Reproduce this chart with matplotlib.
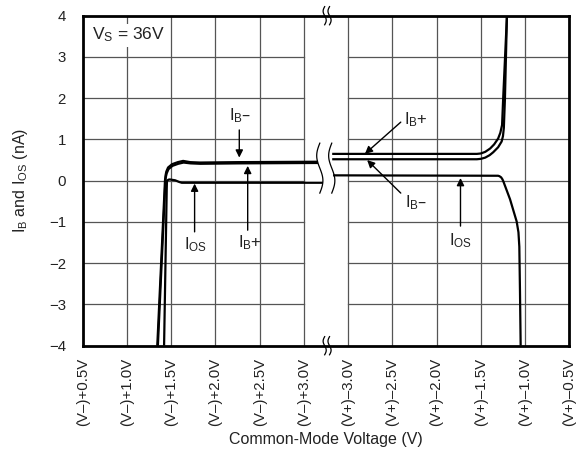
import numpy as np
import matplotlib
matplotlib.use("Agg")
import matplotlib.pyplot as plt

plt.rcParams["font.family"] = ["Liberation Sans", "DejaVu Sans"]
plt.rcParams["mathtext.default"] = "regular"

# x tick labels (broken axis: left half referenced to V-, right half to V+)
xtick_labels = ["(V–)+0.5V", "(V–)+1.0V", "(V–)+1.5V", "(V–)+2.0V", "(V–)+2.5V", "(V–)+3.0V",
                "(V+)–3.0V", "(V+)–2.5V", "(V+)–2.0V", "(V+)–1.5V", "(V+)–1.0V", "(V+)–0.5V"]

# left section: volts above (V-)
ib_minus_left_v = [1.343, 1.43, 1.436, 1.445, 1.465, 1.51, 1.575, 1.635, 1.715, 1.825, 2.25, 3.16]
ib_minus_left_na = [-4.0, 0.0, 0.12, 0.22, 0.32, 0.40, 0.45, 0.48, 0.45, 0.44, 0.45, 0.46]
ib_plus_left_v = [1.35, 1.435, 1.441, 1.45, 1.47, 1.515, 1.58, 1.64, 1.72, 1.83, 2.25, 3.16]
ib_plus_left_na = [-4.0, 0.0, 0.10, 0.18, 0.28, 0.36, 0.41, 0.44, 0.42, 0.41, 0.42, 0.43]
ios_left_v = [1.42, 1.45, 1.4525, 1.47, 1.485, 1.545, 1.59, 1.62, 3.215]
ios_left_na = [-4.0, -0.2, 0.0, 0.025, 0.03, 0.01, -0.03, -0.05, -0.05]

# right section: volts relative to (V+)
ib_plus_right_v = [-3.18, -1.545, -1.50, -1.45, -1.395, -1.35, -1.305, -1.28, -1.26,
                   -1.2475, -1.205]
ib_plus_right_na = [0.65, 0.65, 0.66, 0.70, 0.78, 0.88, 1.02, 1.16, 1.35, 2.0, 4.0]
ib_minus_right_v = [-3.18, -1.545, -1.50, -1.45, -1.40, -1.36, -1.305, -1.265, -1.25,
                    -1.24, -1.2275, -1.205]
ib_minus_right_na = [0.52, 0.52, 0.53, 0.56, 0.62, 0.69, 0.81, 0.95, 1.08, 1.28, 2.0, 4.0]
ios_right_v = [-3.17, -1.305, -1.29, -1.27, -1.255, -1.245, -1.17, -1.095, -1.075,
               -1.065, -1.0575, -1.05]
ios_right_na = [0.13, 0.12, 0.11, 0.08, 0.03, -0.02, -0.45, -0.99, -1.25, -1.6, -2.7, -4.0]


def pos_left(v):
    return (np.asarray(v) - 0.5) * 2


def pos_right(v):
    return 6 + (np.asarray(v) + 3.0) * 2


fig = plt.figure(figsize=(5.81, 4.55), dpi=100)
ax = fig.add_axes([0.1423, 0.2402, 0.8376, 0.7253])
ax.set_xlim(0, 11)
ax.set_ylim(-4, 4)

grid_kw = dict(color="#555555", linewidth=0.9, zorder=1)
for xg in range(1, 11):
    ax.axvline(xg, **grid_kw)
for yg in range(-3, 4):
    ax.plot([0, 5], [yg, yg], **grid_kw)
    ax.plot([6, 11], [yg, yg], **grid_kw)

line_kw = dict(color="black", linewidth=1.6, zorder=3, solid_capstyle="butt",
               solid_joinstyle="round")
ax.plot(pos_left(ib_minus_left_v), ib_minus_left_na, **line_kw)
ax.plot(pos_left(ib_plus_left_v), ib_plus_left_na, **line_kw)
ax.plot(pos_left(ios_left_v), ios_left_na, **line_kw)
ax.plot(pos_right(ib_plus_right_v), ib_plus_right_na, **line_kw)
ax.plot(pos_right(ib_minus_right_v), ib_minus_right_na, **line_kw)
ax.plot(pos_right(ios_right_v), ios_right_na, **line_kw)

# break marks
t = np.linspace(0, 1, 60)
for xc in (5.36, 5.63):
    ax.plot(xc - 0.07 * np.sin(2 * np.pi * t), 0.91 - 1.21 * t, color="black", lw=0.9, zorder=4)
for xc in (5.47, 5.58):
    for yc in (4.0, -4.0):
        ax.plot(xc - 0.035 * np.sin(2 * np.pi * t), yc + 0.22 - 0.44 * t, color="black",
                lw=0.9, zorder=5, clip_on=False)

# annotations
arrow_kw = dict(arrowstyle="-|>", color="black", lw=1.0, mutation_scale=11, shrinkA=0, shrinkB=0)
fs = 12
annots = [
    ("I$_B$–", (3.555, 1.57), (3.54, 1.23), (3.54, 0.56)),
    ("I$_B$+", (3.78, -1.51), (3.73, -1.20), (3.73, 0.36)),
    ("I$_{OS}$", (2.54, -1.54), (2.53, -1.24), (2.53, -0.07)),
    ("I$_B$+", (7.53, 1.49), (7.19, 1.42), (6.38, 0.65)),
    ("I$_B$–", (7.53, -0.52), (7.19, -0.30), (6.43, 0.50)),
    ("I$_{OS}$", (8.53, -1.46), (8.54, -1.10), (8.54, 0.065)),
]
for label, txt, tail, tip in annots:
    ax.annotate("", xy=tip, xytext=tail, arrowprops=arrow_kw, zorder=6)
    ax.text(txt[0], txt[1], label, fontsize=fs, ha="center", va="center", zorder=6,
            color="#222222")

ax.text(0.2, 3.53, "V$_S$ = 36V", fontsize=12.5, ha="left", va="center", zorder=6,
        color="#222222", bbox=dict(facecolor="white", edgecolor="none", pad=1.5))

ax.set_xticks(range(12))
ax.set_xticklabels(xtick_labels, rotation=90, fontsize=10.8)
ax.set_yticks(range(-4, 5))
ax.tick_params(axis="both", length=0, labelsize=10.8, colors="#222222")
ax.tick_params(axis="x", pad=9)
ax.tick_params(axis="y", pad=12)
for sp in ax.spines.values():
    sp.set_linewidth(2.0)
    sp.set_zorder(7)

ax.set_xlabel("Common-Mode Voltage (V)", fontsize=11.5, color="#222222")
ax.xaxis.set_label_coords(0.5, -0.262)
ax.set_ylabel("I$_B$ and I$_{OS}$ (nA)", fontsize=11.5, color="#222222")
ax.yaxis.set_label_coords(-0.108, 0.5)

fig.savefig("out.png", dpi=100)
